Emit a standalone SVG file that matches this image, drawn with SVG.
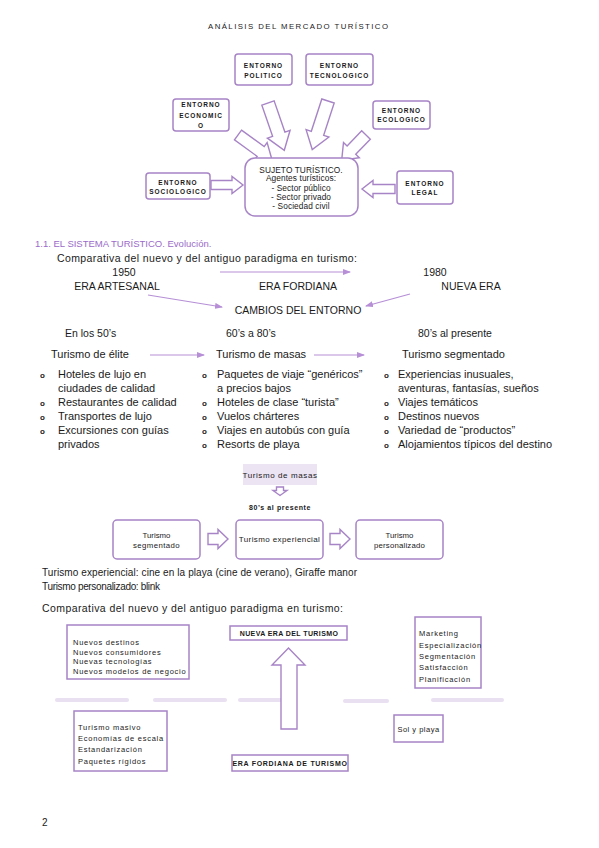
<svg xmlns="http://www.w3.org/2000/svg" width="599" height="848" viewBox="0 0 599 848">
<style>
text{font-family:"Liberation Sans",Arial,sans-serif;fill:#1a1a1a}
.box{fill:#fff;stroke:#a784c6;stroke-width:1.5}
.barrow{fill:#fff;stroke:#a784c6;stroke-width:1.4}
.env{font-size:6.5px;font-weight:bold;letter-spacing:1px;text-anchor:middle}
.suj{font-size:8.3px;text-anchor:middle;letter-spacing:0.1px}
.line{stroke:#b68fd6;stroke-width:1.2;fill:none}
.t10{font-size:10.5px}
.mid{text-anchor:middle}
.col{font-size:11px}
.bul{font-size:8px;font-weight:bold}
.sm{font-size:7.5px;letter-spacing:0.75px}
.smb{font-size:7px;font-weight:bold;text-anchor:middle}
.dash{stroke:#e9e0f1;stroke-width:4;stroke-linecap:round}
</style>
<defs>
<marker id="ah" markerWidth="8" markerHeight="6" refX="7" refY="3" orient="auto" markerUnits="userSpaceOnUse"><path d="M0,0 L8,3 L0,6 Z" fill="#b68fd6"/></marker>
</defs>
<rect width="599" height="848" fill="#fff"/>
<text x="298" y="29" class="mid" font-size="7.8" textLength="180">ANÁLISIS DEL MERCADO TURÍSTICO</text>

<g id="connectors-top">
<path class="barrow" transform="translate(211,185)" d="M0,-4.5 H21 V-8.5 L32,0 L21,8.5 V4.5 H0Z"/>
<path class="barrow" transform="translate(395,189) rotate(180)" d="M0,-4.5 H22 V-8.5 L33,0 L22,8.5 V4.5 H0Z"/>
<path class="barrow" transform="translate(268,103) rotate(71)" d="M0,-6.5 H33 V-12 L50,0 L33,12 V6.5 H0Z"/>
<path class="barrow" transform="translate(328,101) rotate(108)" d="M0,-6.5 H34 V-12 L51,0 L34,12 V6.5 H0Z"/>
<path class="barrow" transform="translate(238,135) rotate(36)" d="M0,-6 H28 V-11 L42,0 L28,11 V6 H0Z"/>
<path class="barrow" transform="translate(366,135) rotate(134)" d="M0,-6 H21 V-11 L35,0 L21,11 V6 H0Z"/>
</g>

<g id="politico"><rect class="box" x="235" y="54" width="57" height="31" rx="3"/><text class="env" x="263.5" y="68">ENTORNO</text><text class="env" x="263.5" y="78">POLITICO</text></g>
<g id="tecnologico"><rect class="box" x="306" y="54" width="67" height="31" rx="3"/><text class="env" x="339.5" y="68">ENTORNO</text><text class="env" x="339.5" y="78">TECNOLOGICO</text></g>
<g id="economico"><rect class="box" x="173" y="99" width="56" height="32" rx="3"/><text class="env" x="201" y="107">ENTORNO</text><text class="env" x="201" y="118">ECONOMIC</text><text class="env" x="201" y="128">O</text></g>
<g id="ecologico"><rect class="box" x="373" y="101" width="57" height="28" rx="3"/><text class="env" x="401.5" y="113">ENTORNO</text><text class="env" x="401.5" y="122">ECOLOGICO</text></g>
<g id="sujeto"><rect class="box" x="245" y="158" width="113" height="58" rx="10"/>
<text class="suj" x="301" y="172.5" font-size="6.9" letter-spacing="0.2">SUJETO TURÍSTICO.</text>
<text class="suj" x="301" y="181" letter-spacing="0.8">Agentes turísticos:</text>
<text class="suj" x="301" y="190.5">- Sector público</text>
<text class="suj" x="301" y="200">- Sector privado</text>
<text class="suj" x="301" y="209">- Sociedad civil</text></g>
<g id="sociologico"><rect class="box" x="146" y="173" width="64" height="26" rx="3"/><text class="env" x="178" y="185">ENTORNO</text><text class="env" x="178" y="194">SOCIOLOGICO</text></g>
<g id="legal"><rect class="box" x="397" y="171" width="56" height="33" rx="3"/><text class="env" x="425" y="186">ENTORNO</text><text class="env" x="425" y="195">LEGAL</text></g>

<text x="35" y="247" font-size="9.5" style="fill:#9b6bc9">1.1.  EL SISTEMA TURÍSTICO. Evolución.</text>
<text x="57" y="262" class="t10" textLength="300">Comparativa del nuevo y del antiguo paradigma en turismo:</text>
<text x="124" y="276" class="t10 mid">1950</text>
<text x="435" y="276" class="t10 mid">1980</text>
<text x="117" y="290" class="t10 mid">ERA ARTESANAL</text>
<text x="298" y="290" class="t10 mid">ERA FORDIANA</text>
<text x="471" y="290" class="t10 mid">NUEVA ERA</text>
<text x="298" y="314" class="t10 mid">CAMBIOS DEL ENTORNO</text>

<g id="connectors-mid">
<line class="line" x1="220" y1="272" x2="350" y2="272" marker-end="url(#ah)"/>
<line class="line" x1="148" y1="295" x2="222" y2="307" marker-end="url(#ah)"/>
<line class="line" x1="410" y1="294" x2="366" y2="306" marker-end="url(#ah)"/>
<line class="line" x1="150" y1="355" x2="204" y2="355" marker-end="url(#ah)"/>
<line class="line" x1="314" y1="355" x2="364" y2="355" marker-end="url(#ah)"/>
</g>

<text x="65" y="337" class="t10">En los 50’s</text>
<text x="226" y="337" class="t10">60’s a 80’s</text>
<text x="418" y="337" class="t10">80’s al presente</text>
<text x="51" y="358" class="col">Turismo de élite</text>
<text x="216" y="358" class="col">Turismo de masas</text>
<text x="402" y="358" class="col">Turismo segmentado</text>

<g id="col1">
<text class="bul" x="40" y="378">o</text><text class="col" x="58" y="378">Hoteles de lujo en</text>
<text class="col" x="58" y="392">ciudades de calidad</text>
<text class="bul" x="40" y="406">o</text><text class="col" x="58" y="406">Restaurantes de calidad</text>
<text class="bul" x="40" y="420">o</text><text class="col" x="58" y="420">Transportes de lujo</text>
<text class="bul" x="40" y="434">o</text><text class="col" x="58" y="434">Excursiones con guías</text>
<text class="col" x="58" y="448">privados</text>
</g>
<g id="col2">
<text class="bul" x="202" y="378">o</text><text class="col" x="217" y="378">Paquetes de viaje “genéricos”</text>
<text class="col" x="217" y="392">a precios bajos</text>
<text class="bul" x="202" y="406">o</text><text class="col" x="217" y="406">Hoteles de clase “turista”</text>
<text class="bul" x="202" y="420">o</text><text class="col" x="217" y="420">Vuelos chárteres</text>
<text class="bul" x="202" y="434">o</text><text class="col" x="217" y="434">Viajes en autobús con guía</text>
<text class="bul" x="202" y="448">o</text><text class="col" x="217" y="448">Resorts de playa</text>
</g>
<g id="col3">
<text class="bul" x="384" y="378">o</text><text class="col" x="398" y="378">Experiencias inusuales,</text>
<text class="col" x="398" y="392">aventuras, fantasías, sueños</text>
<text class="bul" x="384" y="406">o</text><text class="col" x="398" y="406">Viajes temáticos</text>
<text class="bul" x="384" y="420">o</text><text class="col" x="398" y="420">Destinos nuevos</text>
<text class="bul" x="384" y="434">o</text><text class="col" x="398" y="434">Variedad de “productos”</text>
<text class="bul" x="384" y="448">o</text><text class="col" x="398" y="448">Alojamientos típicos del destino</text>
</g>

<g id="masas"><rect x="243" y="464" width="74" height="21" fill="#ece3f3"/><text class="mid" x="280" y="477.5" font-size="8" letter-spacing="0.6">Turismo de masas</text></g>
<g id="connectors-flow">
<path class="barrow" d="M276.5,487 V490.5 H273 L280,495.5 L287,490.5 H283.5 V487 Z"/>
<path class="barrow" d="M208,533.5 H218 V529.5 L228,539 L218,548.5 V544.5 H208 Z"/>
<path class="barrow" d="M330,533.5 H340 V529.5 L350,539 L340,548.5 V544.5 H330 Z"/>
</g>
<text class="mid" x="280" y="510" font-size="7" font-weight="bold" letter-spacing="0.6">80’s al presente</text>
<g id="segmentado"><rect class="box" x="113" y="520" width="87" height="39" rx="4"/><text class="mid" x="156.5" y="537.5" font-size="7.8">Turismo</text><text class="mid" x="156.5" y="547.5" font-size="7.8" letter-spacing="0.4">segmentado</text></g>
<g id="experiencial"><rect class="box" x="236" y="520" width="87" height="39" rx="4"/><text class="mid" x="279.5" y="542" font-size="8" letter-spacing="0.4">Turismo experiencial</text></g>
<g id="personalizado"><rect class="box" x="356" y="520" width="87" height="39" rx="4"/><text class="mid" x="399.5" y="537.5" font-size="7.8">Turismo</text><text class="mid" x="399.5" y="547.5" font-size="7.8" letter-spacing="0.2">personalizado</text></g>

<text x="42" y="576" font-size="10" textLength="315">Turismo experiencial: cine en la playa (cine de verano), Giraffe manor</text>
<text x="42" y="590" font-size="10" textLength="118">Turismo personalizado: blink</text>
<text x="42" y="612" font-size="10.5" textLength="301">Comparativa del nuevo y del antiguo paradigma en turismo:</text>

<g id="dashes">
<line class="dash" x1="57" y1="700" x2="127" y2="700"/>
<line class="dash" x1="155" y1="700" x2="225" y2="700"/>
<line class="dash" x1="240" y1="700" x2="283" y2="700"/>
<line class="dash" x1="345" y1="701" x2="387" y2="701"/>
<line class="dash" x1="433" y1="700" x2="502" y2="700"/>
</g>
<g id="nuevos"><rect class="box" x="67" y="625" width="122" height="54"/>
<text class="sm" x="73" y="645">Nuevos destinos</text>
<text class="sm" x="73" y="654.5">Nuevos consumidores</text>
<text class="sm" x="73" y="664">Nuevas tecnologías</text>
<text class="sm" x="73" y="673.5">Nuevos modelos de negocio</text></g>
<g id="nueva-era"><rect class="box" x="230" y="626" width="117" height="14"/><text class="smb" x="289" y="636" letter-spacing="0.4">NUEVA ERA DEL TURISMO</text></g>
<g id="big-arrow"><path class="barrow" d="M281,729 V665 H272 L288.5,648 L305,665 H297 V729 Z"/></g>
<g id="masivo"><rect class="box" x="74" y="711" width="93" height="60"/>
<text class="sm" x="78" y="730">Turismo masivo</text>
<text class="sm" x="78" y="741">Economías de escala</text>
<text class="sm" x="78" y="752">Estandarización</text>
<text class="sm" x="78" y="764">Paquetes rígidos</text></g>
<g id="fordiana"><rect class="box" x="232" y="755" width="116" height="16"/><text class="smb" x="290" y="766" letter-spacing="0.7">ERA FORDIANA DE TURISMO</text></g>
<g id="marketing"><rect class="box" x="415" y="617" width="66" height="71"/>
<text class="sm" x="419" y="636">Marketing</text>
<text class="sm" x="419" y="647.5">Especialización</text>
<text class="sm" x="419" y="659">Segmentación</text>
<text class="sm" x="419" y="670">Satisfacción</text>
<text class="sm" x="419" y="681.5">Planificación</text></g>
<g id="sol"><rect class="box" x="394" y="715" width="49" height="27"/><text class="mid" x="418.5" y="732" font-size="7.5" letter-spacing="0.5">Sol y playa</text></g>

<text x="42" y="826" font-size="10">2</text>
</svg>
